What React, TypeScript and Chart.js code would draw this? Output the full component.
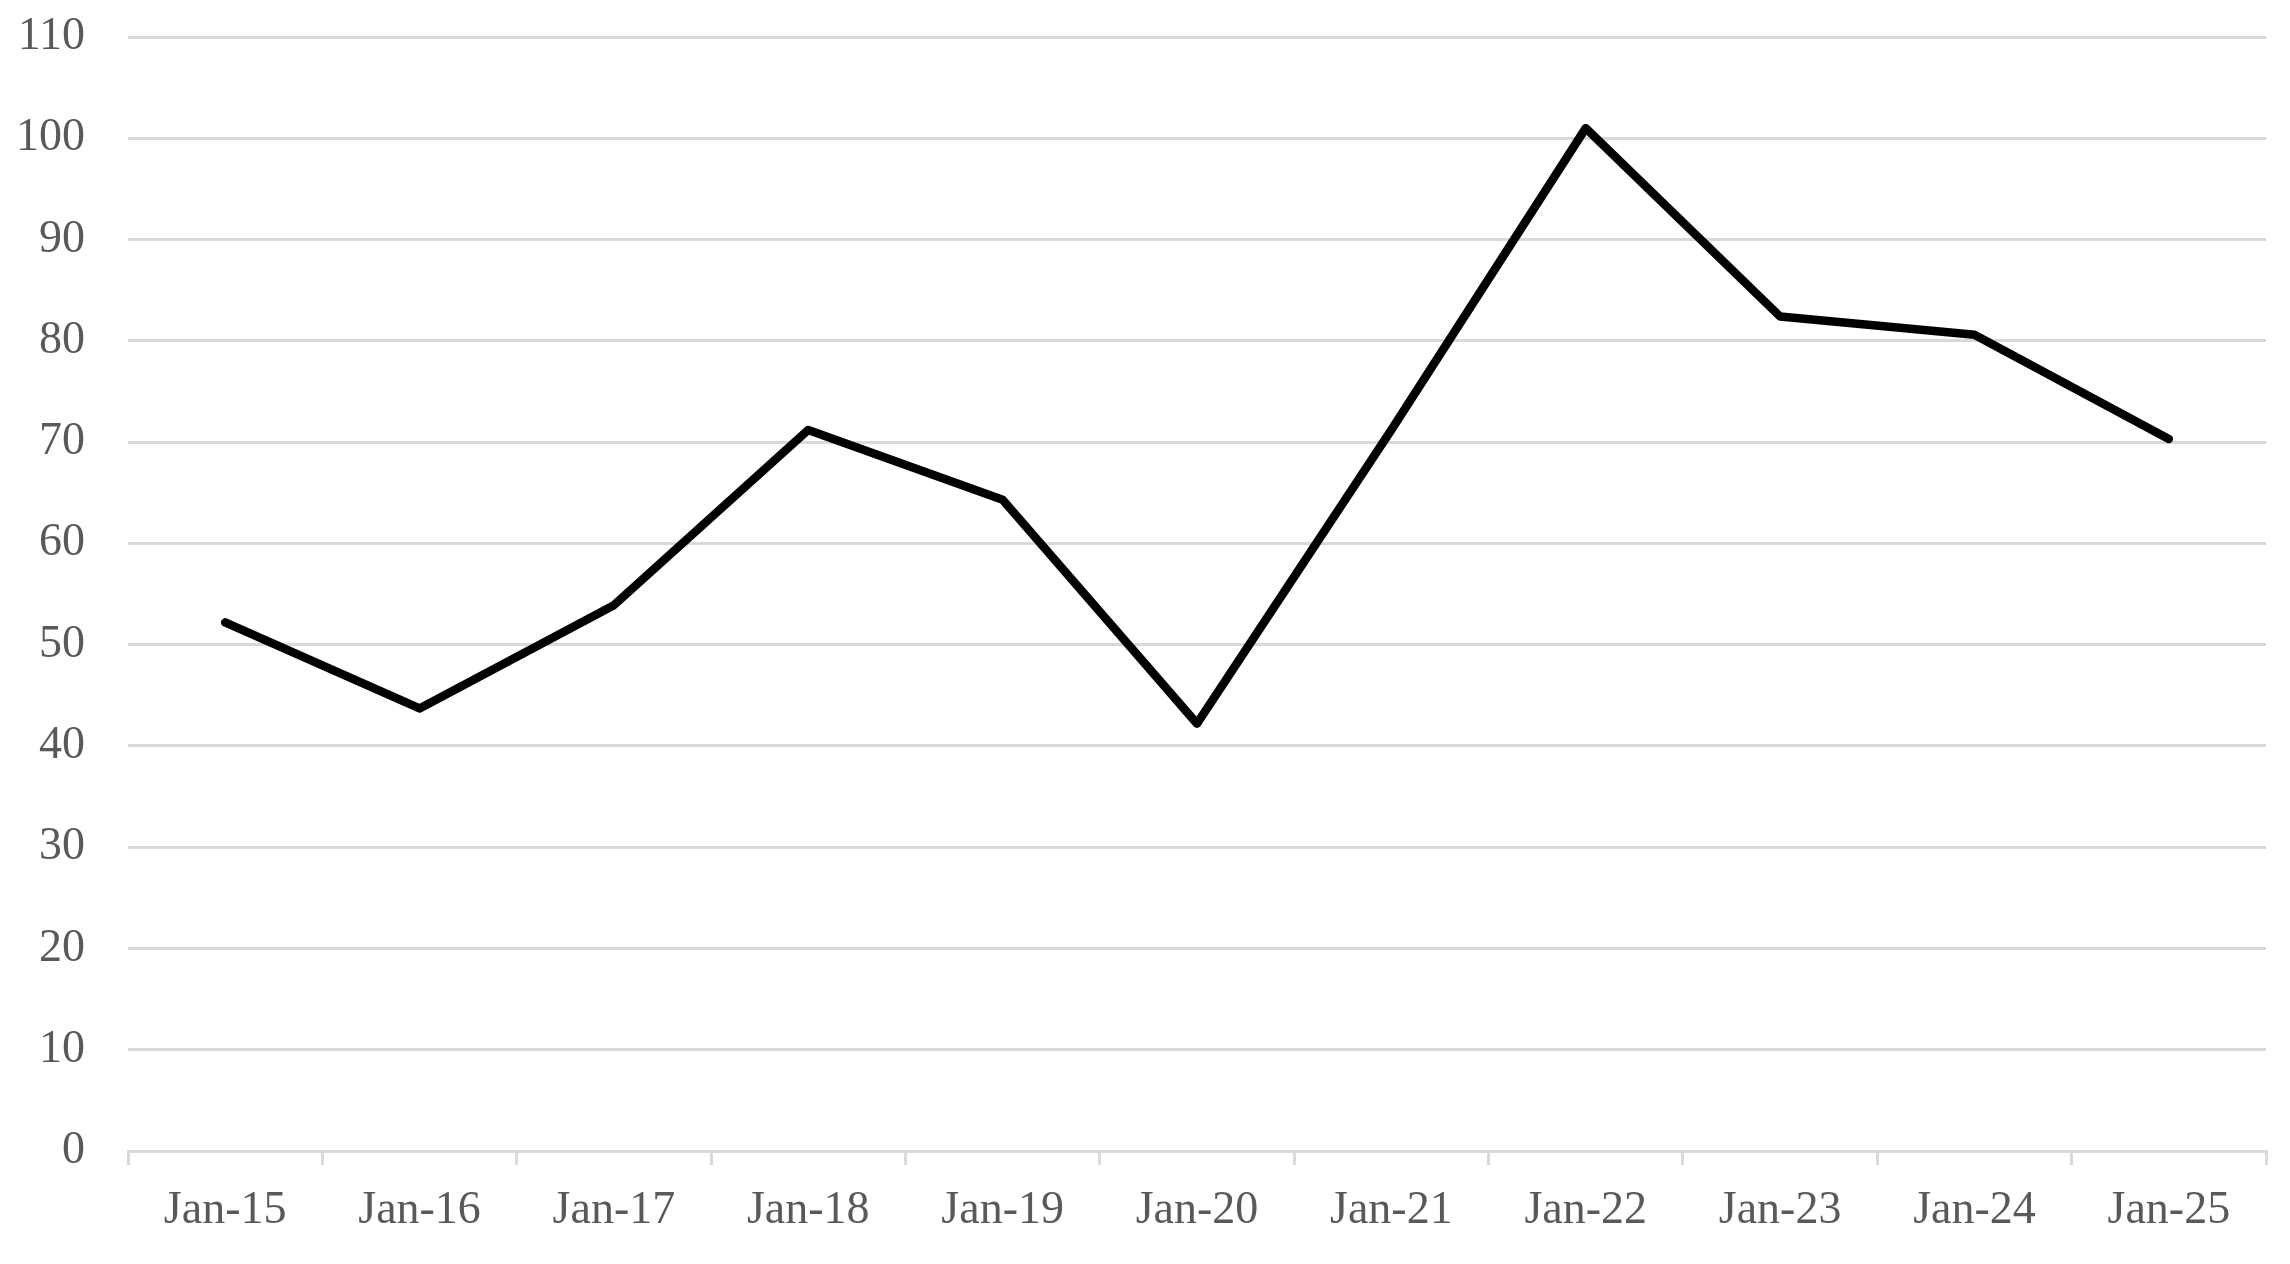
import React, { useEffect, useRef } from "react";
import { Chart, registerables } from "chart.js";

Chart.register(...registerables);

const categories = ["Jan-15", "Jan-16", "Jan-17", "Jan-18", "Jan-19", "Jan-20", "Jan-21", "Jan-22", "Jan-23", "Jan-24", "Jan-25"];
const seriesValues = [52.2, 43.7, 53.9, 71.2, 64.3, 42.2, 71.2, 101.0, 82.4, 80.6, 70.3];
const yMin = 0;
const yMax = 110;
const yStep = 10;

export default function App() {
  const canvasRef = useRef<HTMLCanvasElement | null>(null);

  useEffect(() => {
    document.body.style.margin = "0";
    const canvas = canvasRef.current;
    if (!canvas) return;
    const font = { family: "'Liberation Serif', serif", size: 46 };
    const chart = new Chart(canvas, {
      type: "line",
      data: {
        labels: categories,
        datasets: [
          {
            data: seriesValues,
            borderColor: "#000000",
            borderWidth: 8.5,
            pointRadius: 0,
            pointHoverRadius: 0,
            tension: 0,
            fill: false,
            borderCapStyle: "round",
            borderJoinStyle: "round",
          },
        ],
      },
      options: {
        animation: false,
        responsive: true,
        maintainAspectRatio: false,
        layout: { padding: { top: 37, left: 15, right: 24, bottom: 26 } },
        plugins: { legend: { display: false }, tooltip: { enabled: false } },
        scales: {
          x: {
            offset: true,
            grid: {
              offset: true,
              drawOnChartArea: false,
              drawTicks: true,
              tickLength: 14,
              color: "#d9d9d9",
              lineWidth: 3,
            },
            border: { display: true, color: "#d9d9d9", width: 3 },
            ticks: { color: "#595959", font, padding: 18, maxRotation: 0, autoSkip: false },
            afterFit: (scale: any) => {
              scale.height = 87;
              scale.paddingLeft = 0;
              scale.paddingRight = 0;
            },
          },
          y: {
            min: yMin,
            max: yMax,
            grid: { color: "#d9d9d9", lineWidth: 3, drawTicks: false },
            border: { display: false },
            ticks: { stepSize: yStep, color: "#595959", font, padding: 43 },
            afterFit: (scale: any) => {
              scale.width = 113;
              scale.paddingTop = 0;
              scale.paddingBottom = 0;
            },
          },
        },
      },
    });
    return () => chart.destroy();
  }, []);

  return (
    <div style={{ position: "fixed", left: 0, top: 0, width: 2290, height: 1264, background: "#ffffff" }}>
      <canvas ref={canvasRef} />
    </div>
  );
}
